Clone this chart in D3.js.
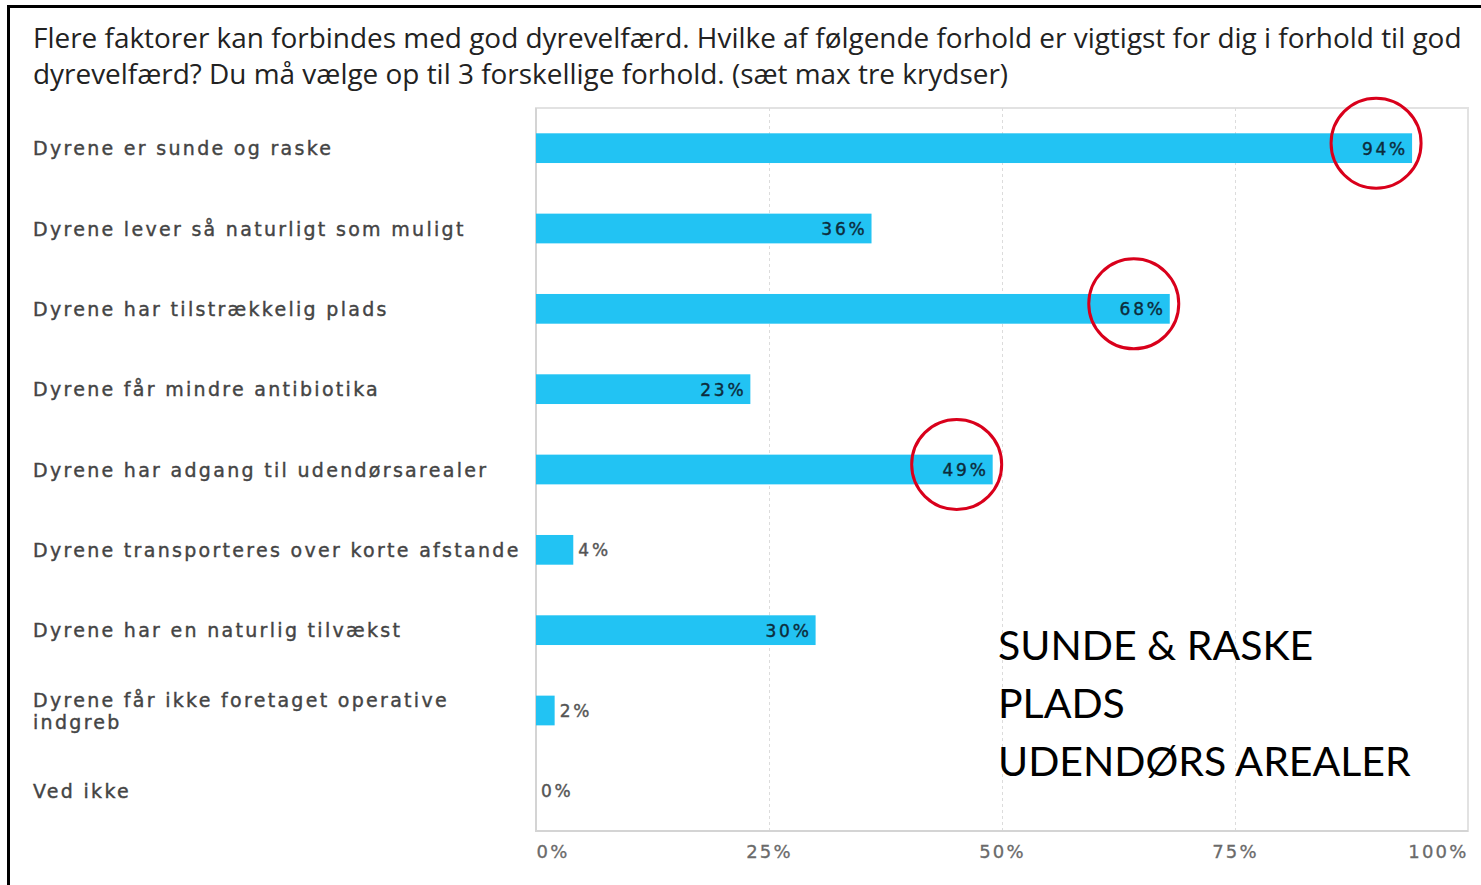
<!DOCTYPE html>
<html>
<head>
<meta charset="utf-8">
<script src="https://cdn.jsdelivr.net/npm/d3@7"></script>
<style>
  body { margin: 0; background: #fff; }
  svg { display: block; }
</style>
</head>
<body>
<div id="chart"></div>
<script>
var width = 1481;
var height = 885;
var margin = ({top: 108, right: 13, bottom: 54, left: 536});

var titleLines = [
  "Flere faktorer kan forbindes med god dyrevelfærd. Hvilke af følgende forhold er vigtigst for dig i forhold til god",
  "dyrevelfærd? Du må vælge op til 3 forskellige forhold. (sæt max tre krydser)"
];
var categories = [
  ["Dyrene er sunde og raske"],
  ["Dyrene lever så naturligt som muligt"],
  ["Dyrene har tilstrækkelig plads"],
  ["Dyrene får mindre antibiotika"],
  ["Dyrene har adgang til udendørsarealer"],
  ["Dyrene transporteres over korte afstande"],
  ["Dyrene har en naturlig tilvækst"],
  ["Dyrene får ikke foretaget operative", "indgreb"],
  ["Ved ikke"]
];
var values = [94, 36, 68, 23, 49, 4, 30, 2, 0];
var highlighted = [0, 2, 4];
var ticks = [0, 25, 50, 75, 100];
var notes = ["SUNDE & RASKE", "PLADS", "UDENDØRS AREALER"];

var labelFont = "'DejaVu Sans', Verdana, sans-serif";

var svg = d3.select("#chart").append("svg")
    .attr("width", width)
    .attr("height", height)
    .attr("viewBox", [0, 0, width, height]);

// outer frame (cropped screenshot border)
svg.append("path")
    .attr("d", `M8.5,${height} V6.5 H${width}`)
    .attr("fill", "none")
    .attr("stroke", "#000")
    .attr("stroke-width", 3);

var title = svg.append("g")
    .selectAll("text")
    .data(titleLines)
    .join("text")
      .attr("x", 33)
      .attr("y", (d, i) => 48 + i * 36)
      .attr("font-family", "'Open Sans', Lato, sans-serif")
      .attr("font-size", 24)
      .attr("fill", "#222")
      .text(d => d);

// first title line runs to x=1462 in the source
var w0 = title.node().getComputedTextLength();
title.attr("font-size", 24 * (1462 - 33) / w0);

var x = d3.scaleLinear()
    .domain([0, 100])
    .range([margin.left, width - margin.right]);

var y = d3.scaleBand()
    .domain(d3.range(values.length))
    .range([margin.top, height - margin.bottom])
    .paddingInner(0.63)
    .paddingOuter(0.315);

// plot frame
svg.append("rect")
    .attr("x", x(0))
    .attr("y", margin.top)
    .attr("width", x(100) - x(0))
    .attr("height", height - margin.bottom - margin.top)
    .attr("fill", "none")
    .attr("stroke", "#e2e2e2")
    .attr("stroke-width", 2);

// grid
svg.append("g")
    .selectAll("line")
    .data(ticks.slice(1, -1))
    .join("line")
      .attr("x1", d => x(d) + 0.5)
      .attr("x2", d => x(d) + 0.5)
      .attr("y1", margin.top)
      .attr("y2", height - margin.bottom)
      .attr("stroke", "#dcdcdc")
      .attr("stroke-dasharray", "3,3");

// x axis
var xAxis = g => g
    .attr("transform", `translate(0,${height - margin.bottom})`)
    .call(d3.axisBottom(x).tickValues(ticks).tickSize(0).tickPadding(14).tickFormat(d => d + "%"))
    .call(g => g.select(".domain").remove())
    .call(g => g.selectAll(".tick text")
        .attr("font-family", labelFont)
        .attr("font-size", 18)
        .attr("letter-spacing", 2.2)
        .attr("fill", "#6a6a6a")
        .attr("stroke", "#6a6a6a")
        .attr("stroke-width", 0.3)
        .attr("text-anchor", (d, i) => i === 0 ? "start" : i === ticks.length - 1 ? "end" : "middle"));

svg.append("g").call(xAxis);

// left/bottom axis lines
svg.append("path")
    .attr("d", `M${x(0)},${margin.top} V${height - margin.bottom} H${x(100)}`)
    .attr("fill", "none")
    .attr("stroke", "#d4d4d4")
    .attr("stroke-width", 2);

// bars
svg.append("g")
    .attr("fill", "#22c3f3")
  .selectAll("rect")
  .data(values)
  .join("rect")
    .attr("x", x(0))
    .attr("y", (d, i) => y(i))
    .attr("width", d => x(d) - x(0))
    .attr("height", y.bandwidth());

// value labels
svg.append("g")
    .attr("font-family", labelFont)
    .attr("font-size", 17)
    .attr("letter-spacing", 2.8)
    .attr("stroke-width", 0.4)
  .selectAll("text")
  .data(values)
  .join("text")
    .attr("x", d => d >= 10 ? x(d) - 4 : x(d) + 5)
    .attr("y", (d, i) => y(i) + y.bandwidth() / 2)
    .attr("dy", "0.38em")
    .attr("text-anchor", d => d >= 10 ? "end" : "start")
    .attr("fill", d => d >= 10 ? "#0d2c3c" : "#555")
    .attr("stroke", d => d >= 10 ? "#0d2c3c" : "#555")
    .text(d => d + "%");

// category labels
svg.append("g")
    .attr("font-family", labelFont)
    .attr("font-size", 19)
    .attr("letter-spacing", 2.3)
    .attr("fill", "#444")
    .attr("stroke", "#444")
    .attr("stroke-width", 0.4)
  .selectAll("text")
  .data(categories)
  .join("text")
    .attr("x", 33)
    .attr("y", (d, i) => y(i) + y.bandwidth() / 2 - (d.length - 1) * 11)
    .call(t => t.selectAll("tspan")
      .data(d => d)
      .join("tspan")
        .attr("x", 33)
        .attr("dy", (d, j) => j === 0 ? "0.38em" : 22)
        .text(d => d));

// red circles around highlighted values
svg.append("g")
  .selectAll("circle")
  .data(highlighted)
  .join("circle")
    .attr("cx", i => x(values[i]) - 36)
    .attr("cy", i => y(i) + y.bandwidth() / 2 - 5)
    .attr("r", 45)
    .attr("fill", "none")
    .attr("stroke", "#d9001b")
    .attr("stroke-width", 3);

// annotation text
svg.append("g")
    .attr("font-family", "Lato, 'Open Sans', sans-serif")
    .attr("font-size", 41)
    .attr("fill", "#000")
  .selectAll("text")
  .data(notes)
  .join("text")
    .attr("x", 998)
    .attr("y", (d, i) => 660 + i * 58)
    .text(d => d);
</script>
</body>
</html>
